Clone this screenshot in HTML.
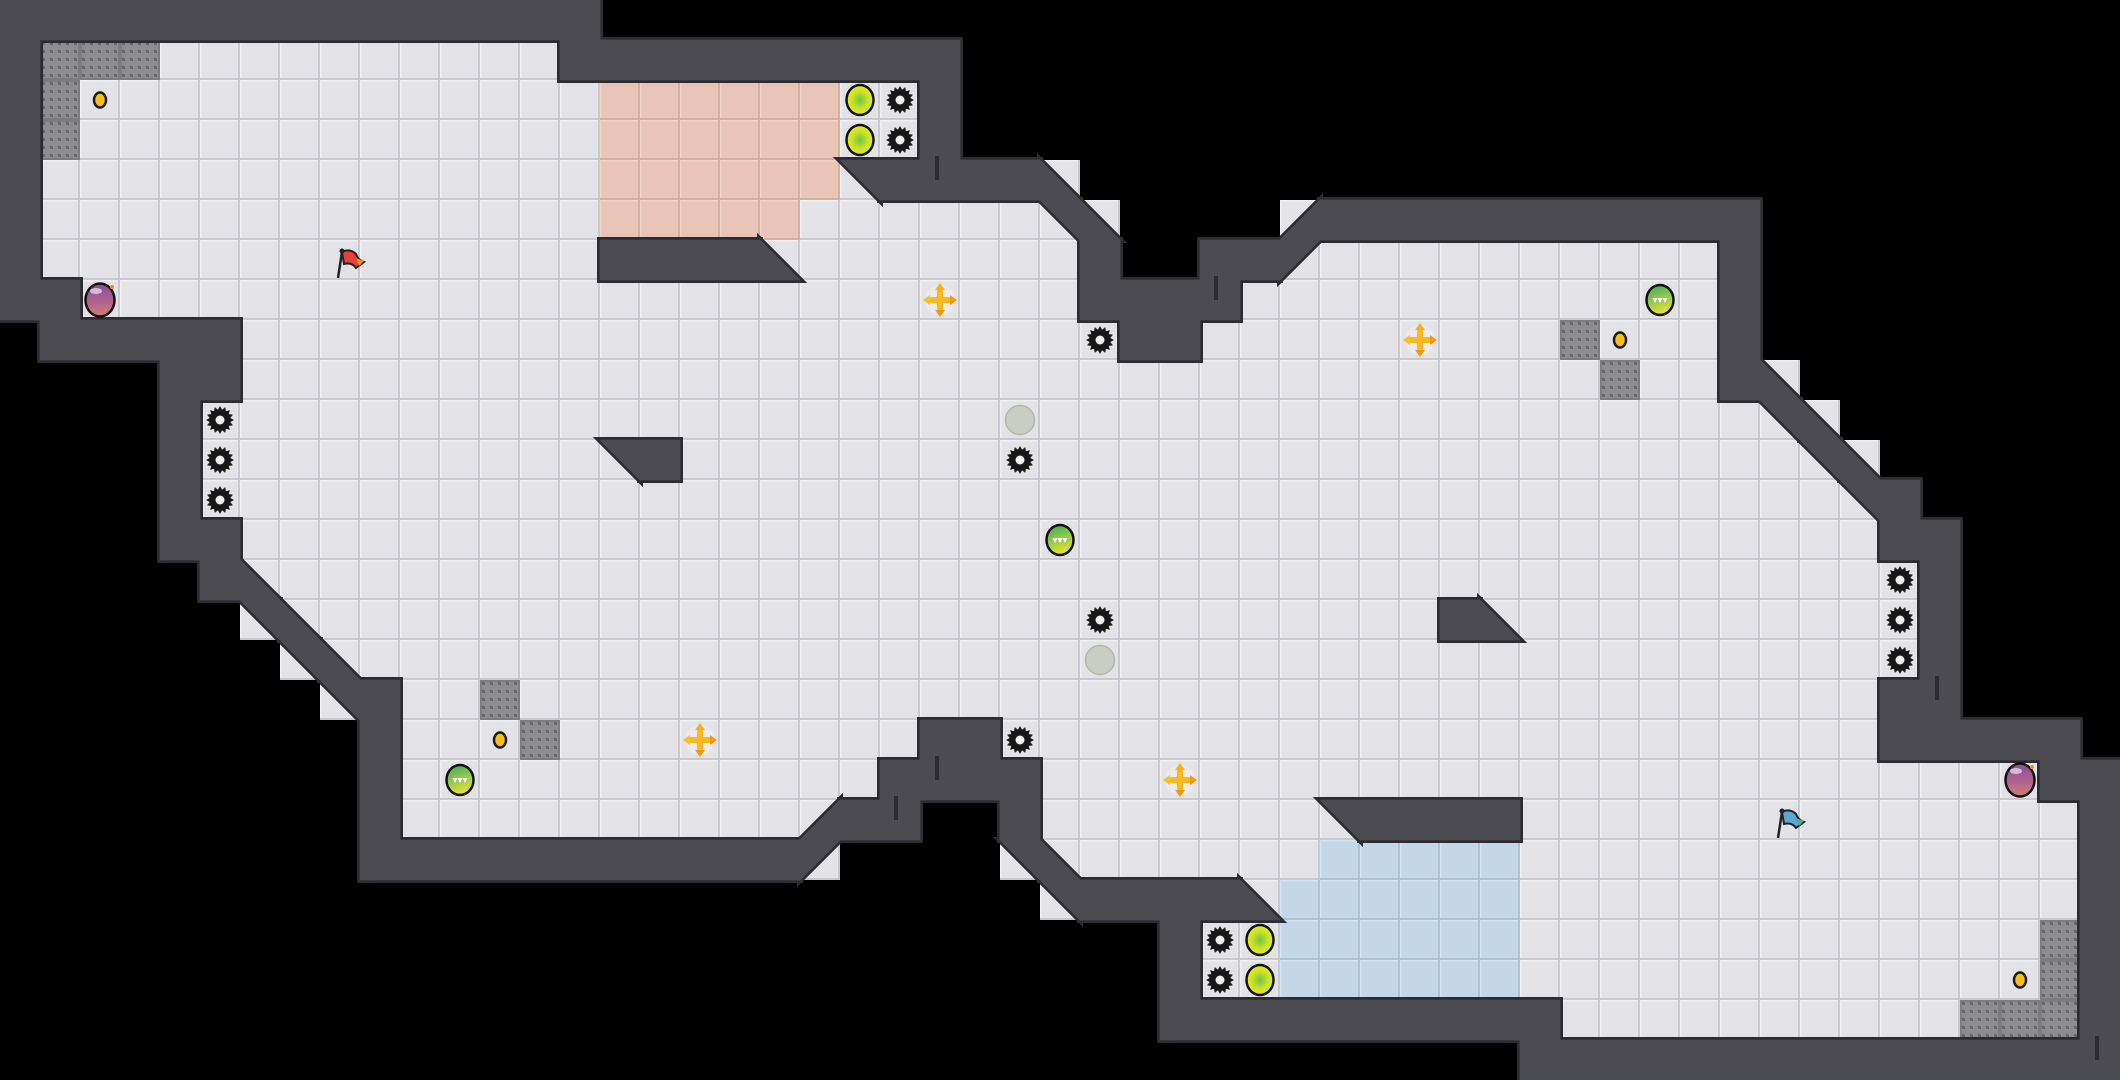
<!DOCTYPE html>
<html><head><meta charset="utf-8">
<style>
html,body{margin:0;padding:0;background:#000;width:2120px;height:1080px;overflow:hidden}
svg{display:block}
</style></head>
<body>
<svg id="s" xmlns="http://www.w3.org/2000/svg" width="2120" height="1080" viewBox="0 0 2120 1080">
<defs>
<radialGradient id="yg" cx="50%" cy="50%" r="50%"><stop offset="0" stop-color="#6cc84a"/><stop offset="0.55" stop-color="#c6e02a"/><stop offset="1" stop-color="#e8ee1a"/></radialGradient>
<linearGradient id="gg" x1="0" y1="0" x2="0.3" y2="1"><stop offset="0" stop-color="#3aa85a"/><stop offset="0.6" stop-color="#9ccc48"/><stop offset="1" stop-color="#e0e030"/></linearGradient>
<linearGradient id="pg" x1="0" y1="0" x2="0" y2="1"><stop offset="0" stop-color="#8a4aa0"/><stop offset="1" stop-color="#d07a78"/></linearGradient>
<pattern id="dots" width="8" height="8" patternUnits="userSpaceOnUse"><rect width="8" height="8" fill="#8d8d91"/><rect x="2" y="2" width="3" height="3" fill="#6a6a6e"/></pattern>
</defs>
<g id="L0"></g><g id="L1"></g><g id="L2"></g><g id="L3"></g>
</svg>
<script>
(function(){
var RL=[
"#15 .38",
"#1 g3 f10 #10 .29",
"#1 g1 f13 p6 f2 #1 .29",
"#1 g1 f13 p6 f2 #1 .29",
"#1 f14 p6 b1 #4 a1 .26",
"#1 f14 p5 f6 b1 a1 .4 d1 #11 .9",
"#1 f14 #4 a1 f7 #1 .2 #2 c1 f10 #1 .9",
"#2 f25 #4 f12 #1 .9",
".1 #5 f22 #2 f9 g1 f3 #1 .9",
".4 #2 f34 g1 f2 #1 a1 .8",
".4 #1 f39 b1 a1 .7",
".4 #1 f10 b1 #1 f28 b1 a1 .6",
".4 #1 f41 b1 #1 .5",
".4 #2 f41 #2 .4",
".5 #1 a1 f41 #1 .4",
".6 b1 a1 f28 #1 a1 f10 #1 .4",
".7 b1 a1 f39 #1 .4",
".8 b1 #1 f2 g1 f34 #2 .4",
".9 #1 f3 g1 f9 #2 f22 #5 .1",
".9 #1 f12 #4 f25 #2",
".9 #1 f10 d1 #2 .2 #1 f7 b1 #4 f14 #1",
".9 #11 c1 .4 b1 a1 f6 u5 f14 #1",
".26 b1 #4 a1 u6 f14 #1",
".29 #1 f2 u6 f13 g1 #1",
".29 #1 f2 u6 f13 g1 #1",
".29 #10 f10 g3 #1",
".38 #15"];
var M=RL.map(function(s){var o="";s.split(" ").forEach(function(t){var c=t[0],n=+t.slice(1);for(var i=0;i<n;i++)o+=c});while(o.length<53)o+=".";return o.slice(0,53)});
var NS="http://www.w3.org/2000/svg",S=40;
var L=[0,1,2,3].map(function(i){return document.getElementById("L"+i)});
function el(p,t,a){var e=document.createElementNS(NS,t);for(var k in a)e.setAttribute(k,a[k]);p.appendChild(e);return e}
function floorTile(x,y,t){
  var fill=t=="p"?"#e8c5b6":t=="u"?"#c3d7e6":"#e3e3e7";
  var dk=t=="p"?"#d4ae9e":t=="u"?"#a9c2d6":"#c8c8ce";
  var lt=t=="p"?"#f0d4c8":t=="u"?"#d3e3ef":"#efeff2";
  el(L[0],"rect",{x:x,y:y,width:S,height:S,fill:dk});
  el(L[0],"rect",{x:x,y:y,width:S-2,height:S-2,fill:lt});
  el(L[0],"rect",{x:x+1.5,y:y+1.5,width:S-3.5,height:S-3.5,fill:fill});
}
function wallPts(c,x,y){
  var s=S;
  if(c=="#")return [[x,y],[x+s,y],[x+s,y+s],[x,y+s]];
  if(c=="a")return [[x,y],[x,y+s],[x+s,y+s]];
  if(c=="b")return [[x,y],[x+s,y],[x+s,y+s]];
  if(c=="c")return [[x,y],[x+s,y],[x,y+s]];
  if(c=="d")return [[x+s,y],[x+s,y+s],[x,y+s]];
}
var walls=[];
for(var r=0;r<27;r++)for(var c=0;c<53;c++){
  var ch=M[r][c],x=c*S,y=r*S;
  if(ch=="f"||ch=="p"||ch=="u"||"abcd".indexOf(ch)>=0)floorTile(x,y,ch=="p"?"p":ch=="u"?"u":"f");
  if(ch=="g"){el(L[0],"rect",{x:x,y:y,width:S,height:S,fill:"#7c7c80"});el(L[0],"rect",{x:x+2,y:y+2,width:S-4,height:S-4,fill:"url(#dots)"});}
  if("#abcd".indexOf(ch)>=0)walls.push(wallPts(ch,x,y));
}
walls.forEach(function(p){el(L[1],"polygon",{points:p.join(" "),fill:"#2b2b30",stroke:"#2b2b30","stroke-width":6,"stroke-linejoin":"miter"})});
walls.forEach(function(p){el(L[2],"polygon",{points:p.join(" "),fill:"#4b4b51",stroke:"#4b4b51","stroke-width":0.8})});
[[937,156],[1216,276],[1937,676],[896,796],[937,756],[2097,1036]].forEach(function(a){el(L[2],"rect",{x:a[0]-2,y:a[1],width:4,height:24,fill:"#2b2b30"})});
var G=L[3];
function cc(c,r){return [c*S+20,r*S+20]}
function coin(c,r){var p=cc(c,r);el(G,"ellipse",{cx:p[0],cy:p[1],rx:6,ry:7.5,fill:"#f3c316",stroke:"#1a1a1a","stroke-width":2.5})}
function yorb(c,r){var p=cc(c,r);el(G,"ellipse",{cx:p[0],cy:p[1],rx:13.5,ry:15,fill:"url(#yg)",stroke:"#111","stroke-width":2.5})}
function spike(c,r){var p=cc(c,r),pts=[];for(var i=0;i<32;i++){var a=i*Math.PI/16,rr=i%2?10.5:14;pts.push([p[0]+rr*Math.cos(a),p[1]+rr*Math.sin(a)])}
  el(G,"polygon",{points:pts.join(" "),fill:"#161616"});el(G,"circle",{cx:p[0],cy:p[1],r:4.5,fill:"#f0f0f0"})}
function gorb(c,r){var p=cc(c,r);el(G,"ellipse",{cx:p[0],cy:p[1],rx:13.5,ry:15,fill:"url(#gg)",stroke:"#111","stroke-width":2.5});
  for(var i=-1;i<=1;i++)el(G,"polygon",{points:[[p[0]+i*5-2.5,p[1]-2],[p[0]+i*5+2.5,p[1]-2],[p[0]+i*5,p[1]+3]].join(" "),fill:"#fff"})}
function grey(c,r){var p=cc(c,r);el(G,"circle",{cx:p[0],cy:p[1],r:14.5,fill:"#c9cdc3",stroke:"#b3b7ad","stroke-width":1.5})}
function cross(c,r){var p=cc(c,r),x=p[0],y=p[1];el(G,"circle",{cx:x,cy:y,r:15,fill:"#ececef"});
  el(G,"path",{d:"M"+(x-3)+" "+(y-11)+"h6v8h8v6h-8v8h-6v-8h-8v-6h8z",fill:"#f8b820"});
  el(G,"polygon",{points:[[x,y-17],[x-5,y-10],[x+5,y-10]].join(" "),fill:"#f6b01c"});
  el(G,"polygon",{points:[[x,y+17],[x-5,y+10],[x+5,y+10]].join(" "),fill:"#f29a14"});
  el(G,"polygon",{points:[[x-17,y],[x-10,y-5],[x-10,y+5]].join(" "),fill:"#f8c020"});
  el(G,"polygon",{points:[[x+17,y],[x+10,y-5],[x+10,y+5]].join(" "),fill:"#f29a14"})}
function porb(c,r){var p=cc(c,r);el(G,"ellipse",{cx:p[0],cy:p[1],rx:14.5,ry:16.5,fill:"url(#pg)",stroke:"#111","stroke-width":2.5});
  el(G,"ellipse",{cx:p[0]-4,cy:p[1]-9,rx:6,ry:3,fill:"#fff",opacity:0.6});el(G,"circle",{cx:p[0]+12,cy:p[1]-13,r:2,fill:"#f08a20"})}
function flag(c,r,col,col2){var x=c*S+2,y=r*S+4;
  el(G,"line",{x1:x+20,y1:y+8,x2:x+16,y2:y+34,stroke:"#222","stroke-width":2.5});
  el(G,"path",{d:"M"+(x+20)+" "+(y+8)+"q8 -4 14 2q2 6 8 8l-8 6q-4-6-12-4z",fill:col,stroke:"#222","stroke-width":2});
  el(G,"path",{d:"M"+(x+34)+" "+(y+14)+"l8 3l-5 5z",fill:col2});
  el(G,"circle",{cx:x+20,cy:y+7,r:2.5,fill:"#222"})}
[[2,2],[12,18],[40,8],[50,24]].forEach(function(a){coin(a[0],a[1])});
[[21,2],[21,3],[31,23],[31,24]].forEach(function(a){yorb(a[0],a[1])});
[[22,2],[22,3],[5,10],[5,11],[5,12],[27,8],[25,11],[27,15],[25,18],[47,14],[47,15],[47,16],[30,23],[30,24]].forEach(function(a){spike(a[0],a[1])});
[[11,19],[26,13],[41,7]].forEach(function(a){gorb(a[0],a[1])});
[[25,10],[27,16]].forEach(function(a){grey(a[0],a[1])});
[[23,7],[35,8],[17,18],[29,19]].forEach(function(a){cross(a[0],a[1])});
[[2,7],[50,19]].forEach(function(a){porb(a[0],a[1])});
flag(8,6,"#e8403a","#f08a20");flag(44,20,"#5aa8d8","#4cb080");
})();
</script>
</body></html>
